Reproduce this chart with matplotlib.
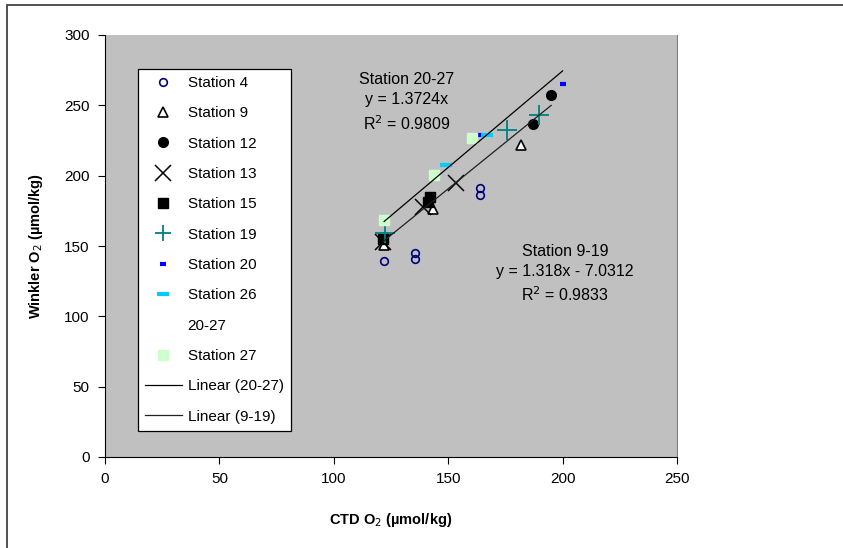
import matplotlib
matplotlib.use("Agg")
import matplotlib.pyplot as plt
from matplotlib.patches import Rectangle
import numpy as np

plt.rcParams['font.family'] = ['Liberation Sans', 'DejaVu Sans']

# data (CTD O2, Winkler O2)
st4_x = [122, 135.5, 135.5, 164, 164]
st4_y = [139.5, 145, 141, 191, 186]
st9_x = [122, 143.5, 182]
st9_y = [151, 176, 222]
st12_x = [187, 195]
st12_y = [237, 257]
st13_x = [121.5, 139, 153.5]
st13_y = [153, 178, 194.5]
st15_x = [121.5, 141, 142]
st15_y = [155, 181, 185]
st19_x = [122.5, 175.5, 189.5]
st19_y = [159, 232.5, 243]
st20_x = [164, 200]
st20_y = [229, 265]
st26_x = [167, 149]
st26_y = [229, 207.5]
st27_x = [122, 144, 160.5]
st27_y = [168.5, 200.5, 226.5]

# trend lines (Excel fits)
fit_a_slope = 1.3724
fit_a_range = [122, 200]
fit_b_slope, fit_b_icpt = 1.318, -7.0312
fit_b_range = [121.5, 195]

fig = plt.figure(figsize=(8.43, 5.48), dpi=100)
ax = fig.add_axes([105/843, 1-457/548, 572/843, 422/548])
ax.set_facecolor('#c0c0c0')

ax.plot(st4_x, st4_y, 'o', ls='none', mfc='none', mec='#000080', ms=5.5, mew=1.2, label='Station 4')
ax.plot(st9_x, st9_y, '^', ls='none', mfc='white', mec='black', ms=6.5, mew=1.2, label='Station 9')
ax.plot(st12_x, st12_y, 'o', ls='none', color='black', ms=7, label='Station 12')
ax.plot(st13_x, st13_y, 'x', ls='none', color='black', ms=11, mew=1.1, label='Station 13')
ax.plot(st15_x, st15_y, 's', ls='none', color='black', ms=6.5, label='Station 15')
ax.plot(st19_x, st19_y, '+', ls='none', color='#008080', ms=15, mew=1.3, label='Station 19')
ax.plot(st20_x, st20_y, '_', ls='none', color='#0000ff', ms=5, mew=3, label='Station 20')
ax.plot(st26_x, st26_y, '_', ls='none', color='#00ccff', ms=8, mew=3, label='Station 26')
ax.plot([], [], ls='none', marker='none', label='20-27')
ax.plot(st27_x, st27_y, 's', ls='none', color='#ccffcc', ms=7.5, label='Station 27')

xa = np.array(fit_a_range)
ax.plot(xa, fit_a_slope * xa, color='black', lw=0.9, label='Linear (20-27)')
xb = np.array(fit_b_range)
ax.plot(xb, fit_b_slope * xb + fit_b_icpt, color='#202020', lw=0.9, label='Linear (9-19)')

ax.set_xlim(0, 250)
ax.set_ylim(0, 300)
ax.set_xticks(range(0, 251, 50))
ax.set_yticks(range(0, 301, 50))
ax.tick_params(direction='out', length=5, labelsize=11, pad=6, color='black')
ax.spines['top'].set_visible(False)
ax.spines['right'].set_color('#808080')
ax.spines['left'].set_color('black')
ax.spines['bottom'].set_color('black')

ax.set_xlabel('CTD O$_2$ (\u00b5mol/kg)', fontsize=10.5, fontweight='bold', labelpad=18)
ax.set_ylabel('Winkler O$_2$ (\u00b5mol/kg)', fontsize=10.5, fontweight='bold', labelpad=14)

ax.text(132, 252, 'Station 20-27\ny = 1.3724x\nR$^2$ = 0.9809', ha='center', va='center',
        fontsize=11.5, linespacing=1.42)
ax.text(201, 130, 'Station 9-19\ny = 1.318x - 7.0312\nR$^2$ = 0.9833', ha='center', va='center',
        fontsize=11.5, linespacing=1.42)

leg = ax.legend(loc='upper left', bbox_to_anchor=(138/843, 1-69/548), bbox_transform=fig.transFigure,
                fancybox=False, framealpha=1, edgecolor='black', fontsize=11,
                labelspacing=1.07, handlelength=2.4, handletextpad=0.4, borderpad=0.45,
                borderaxespad=0)
leg.get_frame().set_linewidth(0.9)
leg.legend_handles[5].set_markersize(11)

# outer chart border
fig.patches.append(Rectangle((7/843, -0.05), 1.2, 1-5/548 + 0.05, transform=fig.transFigure,
                             fill=False, edgecolor='#333333', lw=1.2))

fig.savefig('out.png', dpi=100)
